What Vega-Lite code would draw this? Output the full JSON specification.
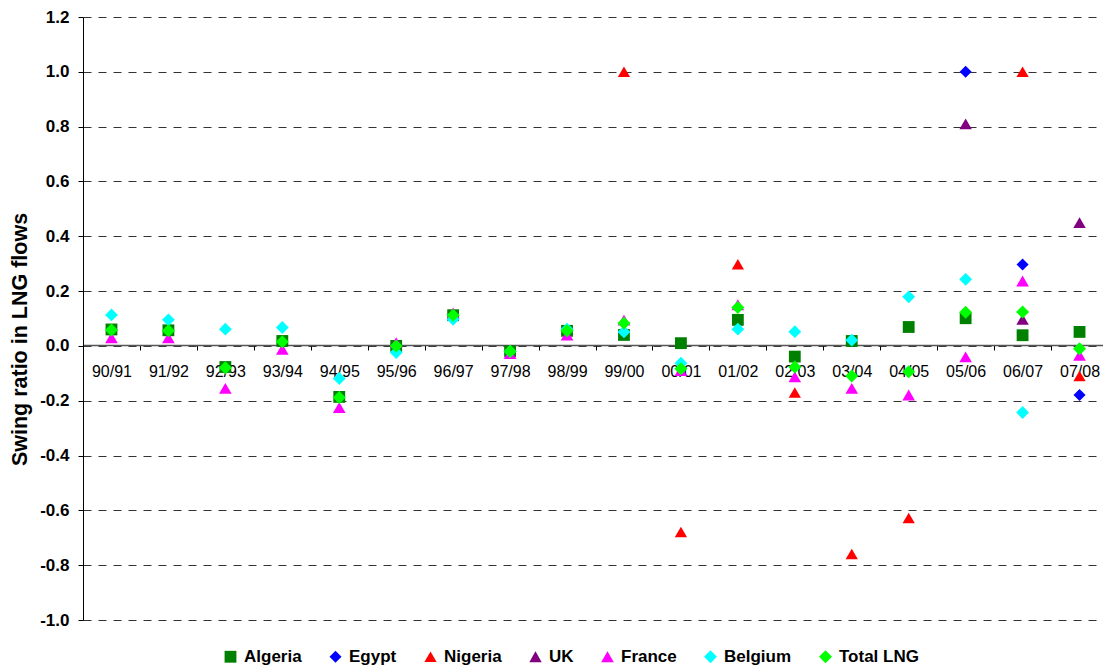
{
  "$schema": "https://vega.github.io/schema/vega-lite/v6.json",
  "width": 1020,
  "height": 603,
  "autosize": {"type": "none"},
  "padding": {"left": 83, "top": 17, "right": 0, "bottom": 51},
  "background": "white",
  "config": {
    "view": {"stroke": null},
    "font": "Liberation Sans"
  },
  "data": {
    "values": [
      {"period": "90/91", "series": "Algeria", "value": 0.06},
      {"period": "91/92", "series": "Algeria", "value": 0.057},
      {"period": "92/93", "series": "Algeria", "value": -0.077},
      {"period": "93/94", "series": "Algeria", "value": 0.018},
      {"period": "94/95", "series": "Algeria", "value": -0.186},
      {"period": "95/96", "series": "Algeria", "value": 0.0},
      {"period": "96/97", "series": "Algeria", "value": 0.112},
      {"period": "97/98", "series": "Algeria", "value": -0.02},
      {"period": "98/99", "series": "Algeria", "value": 0.055},
      {"period": "99/00", "series": "Algeria", "value": 0.04},
      {"period": "00/01", "series": "Algeria", "value": 0.01},
      {"period": "01/02", "series": "Algeria", "value": 0.095},
      {"period": "02/03", "series": "Algeria", "value": -0.039},
      {"period": "03/04", "series": "Algeria", "value": 0.018},
      {"period": "04/05", "series": "Algeria", "value": 0.069},
      {"period": "05/06", "series": "Algeria", "value": 0.101},
      {"period": "06/07", "series": "Algeria", "value": 0.039},
      {"period": "07/08", "series": "Algeria", "value": 0.051},
      {"period": "05/06", "series": "Egypt", "value": 1.0},
      {"period": "06/07", "series": "Egypt", "value": 0.297},
      {"period": "07/08", "series": "Egypt", "value": -0.179},
      {"period": "99/00", "series": "Nigeria", "value": 1.0},
      {"period": "00/01", "series": "Nigeria", "value": -0.679},
      {"period": "01/02", "series": "Nigeria", "value": 0.298},
      {"period": "02/03", "series": "Nigeria", "value": -0.17},
      {"period": "03/04", "series": "Nigeria", "value": -0.759},
      {"period": "04/05", "series": "Nigeria", "value": -0.628},
      {"period": "06/07", "series": "Nigeria", "value": 1.0},
      {"period": "07/08", "series": "Nigeria", "value": -0.11},
      {"period": "05/06", "series": "UK", "value": 0.81},
      {"period": "06/07", "series": "UK", "value": 0.097},
      {"period": "07/08", "series": "UK", "value": 0.45},
      {"period": "90/91", "series": "France", "value": 0.03},
      {"period": "91/92", "series": "France", "value": 0.03},
      {"period": "92/93", "series": "France", "value": -0.155},
      {"period": "93/94", "series": "France", "value": -0.012},
      {"period": "94/95", "series": "France", "value": -0.225},
      {"period": "95/96", "series": "France", "value": 0.012},
      {"period": "96/97", "series": "France", "value": 0.12},
      {"period": "97/98", "series": "France", "value": -0.028},
      {"period": "98/99", "series": "France", "value": 0.04},
      {"period": "99/00", "series": "France", "value": 0.094},
      {"period": "00/01", "series": "France", "value": -0.09},
      {"period": "01/02", "series": "France", "value": 0.15},
      {"period": "02/03", "series": "France", "value": -0.113},
      {"period": "03/04", "series": "France", "value": -0.155},
      {"period": "04/05", "series": "France", "value": -0.179},
      {"period": "05/06", "series": "France", "value": -0.04},
      {"period": "06/07", "series": "France", "value": 0.237},
      {"period": "07/08", "series": "France", "value": -0.034},
      {"period": "90/91", "series": "Belgium", "value": 0.113},
      {"period": "91/92", "series": "Belgium", "value": 0.095},
      {"period": "92/93", "series": "Belgium", "value": 0.061},
      {"period": "93/94", "series": "Belgium", "value": 0.067},
      {"period": "94/95", "series": "Belgium", "value": -0.119},
      {"period": "95/96", "series": "Belgium", "value": -0.024},
      {"period": "96/97", "series": "Belgium", "value": 0.097},
      {"period": "97/98", "series": "Belgium", "value": -0.02},
      {"period": "98/99", "series": "Belgium", "value": 0.061},
      {"period": "99/00", "series": "Belgium", "value": 0.051},
      {"period": "00/01", "series": "Belgium", "value": -0.063},
      {"period": "01/02", "series": "Belgium", "value": 0.061},
      {"period": "02/03", "series": "Belgium", "value": 0.052},
      {"period": "03/04", "series": "Belgium", "value": 0.021},
      {"period": "04/05", "series": "Belgium", "value": 0.179},
      {"period": "05/06", "series": "Belgium", "value": 0.243},
      {"period": "06/07", "series": "Belgium", "value": -0.243},
      {"period": "90/91", "series": "Total LNG", "value": 0.058},
      {"period": "91/92", "series": "Total LNG", "value": 0.055},
      {"period": "92/93", "series": "Total LNG", "value": -0.08},
      {"period": "93/94", "series": "Total LNG", "value": 0.015},
      {"period": "94/95", "series": "Total LNG", "value": -0.188},
      {"period": "95/96", "series": "Total LNG", "value": 0.0},
      {"period": "96/97", "series": "Total LNG", "value": 0.112},
      {"period": "97/98", "series": "Total LNG", "value": -0.02},
      {"period": "98/99", "series": "Total LNG", "value": 0.055},
      {"period": "99/00", "series": "Total LNG", "value": 0.083},
      {"period": "00/01", "series": "Total LNG", "value": -0.083},
      {"period": "01/02", "series": "Total LNG", "value": 0.14},
      {"period": "02/03", "series": "Total LNG", "value": -0.077},
      {"period": "03/04", "series": "Total LNG", "value": -0.11},
      {"period": "04/05", "series": "Total LNG", "value": -0.094},
      {"period": "05/06", "series": "Total LNG", "value": 0.123},
      {"period": "06/07", "series": "Total LNG", "value": 0.124},
      {"period": "07/08", "series": "Total LNG", "value": -0.01}
    ]
  },
  "mark": {"type": "point", "filled": true, "opacity": 1, "strokeWidth": 0},
  "encoding": {
    "x": {
      "field": "period",
      "type": "ordinal",
      "sort": null,
      "scale": {"paddingInner": 0, "paddingOuter": 0, "range": [0, 1025]},
      "axis": {
        "title": null,
        "offset": -275,
        "tickBand": "extent",
        "labelAngle": 0,
        "labelFont": "Liberation Sans",
        "labelFontSize": 16,
        "labelColor": "black",
        "labelPadding": 13,
        "tickColor": "black",
        "tickSize": 5,
        "domainColor": "#555",
        "domainWidth": 1.5,
        "grid": false,
        "zindex": 0
      }
    },
    "y": {
      "field": "value",
      "type": "quantitative",
      "scale": {"domain": [-1.0, 1.2], "nice": false, "zero": false},
      "axis": {
        "title": "Swing ratio in LNG flows",
        "titleFont": "Liberation Sans",
        "titleFontSize": 21.5,
        "titleFontWeight": "bold",
        "titleColor": "black",
        "titlePadding": 8,
        "titleY": 322,
        "values": [-1.0, -0.8, -0.6, -0.4, -0.2, 0.0, 0.2, 0.4, 0.6, 0.8, 1.0, 1.2],
        "format": ".1f",
        "labelExpr": "replace(datum.label, '\u2212', '-')",
        "labelFont": "Liberation Sans",
        "labelFontSize": 17,
        "labelFontWeight": "bold",
        "labelColor": "black",
        "labelPadding": 9,
        "tickColor": "black",
        "tickSize": 5,
        "domainColor": "black",
        "grid": true,
        "gridColor": "#333",
        "gridDash": [8, 7],
        "gridWidth": 1,
        "zindex": 0
      }
    },
    "size": {
      "field": "series",
      "type": "nominal",
      "legend": null,
      "scale": {
        "domain": ["Algeria", "Egypt", "Nigeria", "UK", "France", "Belgium", "Total LNG"],
        "range": [140, 170, 210, 210, 210, 170, 170]
      }
    },
    "color": {
      "field": "series",
      "type": "nominal",
      "sort": ["Algeria", "Egypt", "Nigeria", "UK", "France", "Belgium", "Total LNG"],
      "scale": {
        "domain": ["Algeria", "Egypt", "Nigeria", "UK", "France", "Belgium", "Total LNG"],
        "range": ["#008000", "#0000FF", "#FF0000", "#800080", "#FF00FF", "#00FFFF", "#00FF00"]
      },
      "legend": {
        "title": null,
        "orient": "none",
        "direction": "horizontal",
        "legendX": 139,
        "legendY": 631,
        "labelFont": "Liberation Sans",
        "labelFontSize": 17,
        "labelFontWeight": "bold",
        "labelColor": "black",
        "labelOffset": 5,
        "symbolSize": 90,
        "symbolStrokeWidth": 0,
        "columnPadding": 25,
        "padding": 0
      }
    },
    "shape": {
      "field": "series",
      "type": "nominal",
      "sort": ["Algeria", "Egypt", "Nigeria", "UK", "France", "Belgium", "Total LNG"],
      "scale": {
        "domain": ["Algeria", "Egypt", "Nigeria", "UK", "France", "Belgium", "Total LNG"],
        "range": ["square", "diamond", "triangle-up", "triangle-up", "triangle-up", "diamond", "diamond"]
      }
    }
  }
}
